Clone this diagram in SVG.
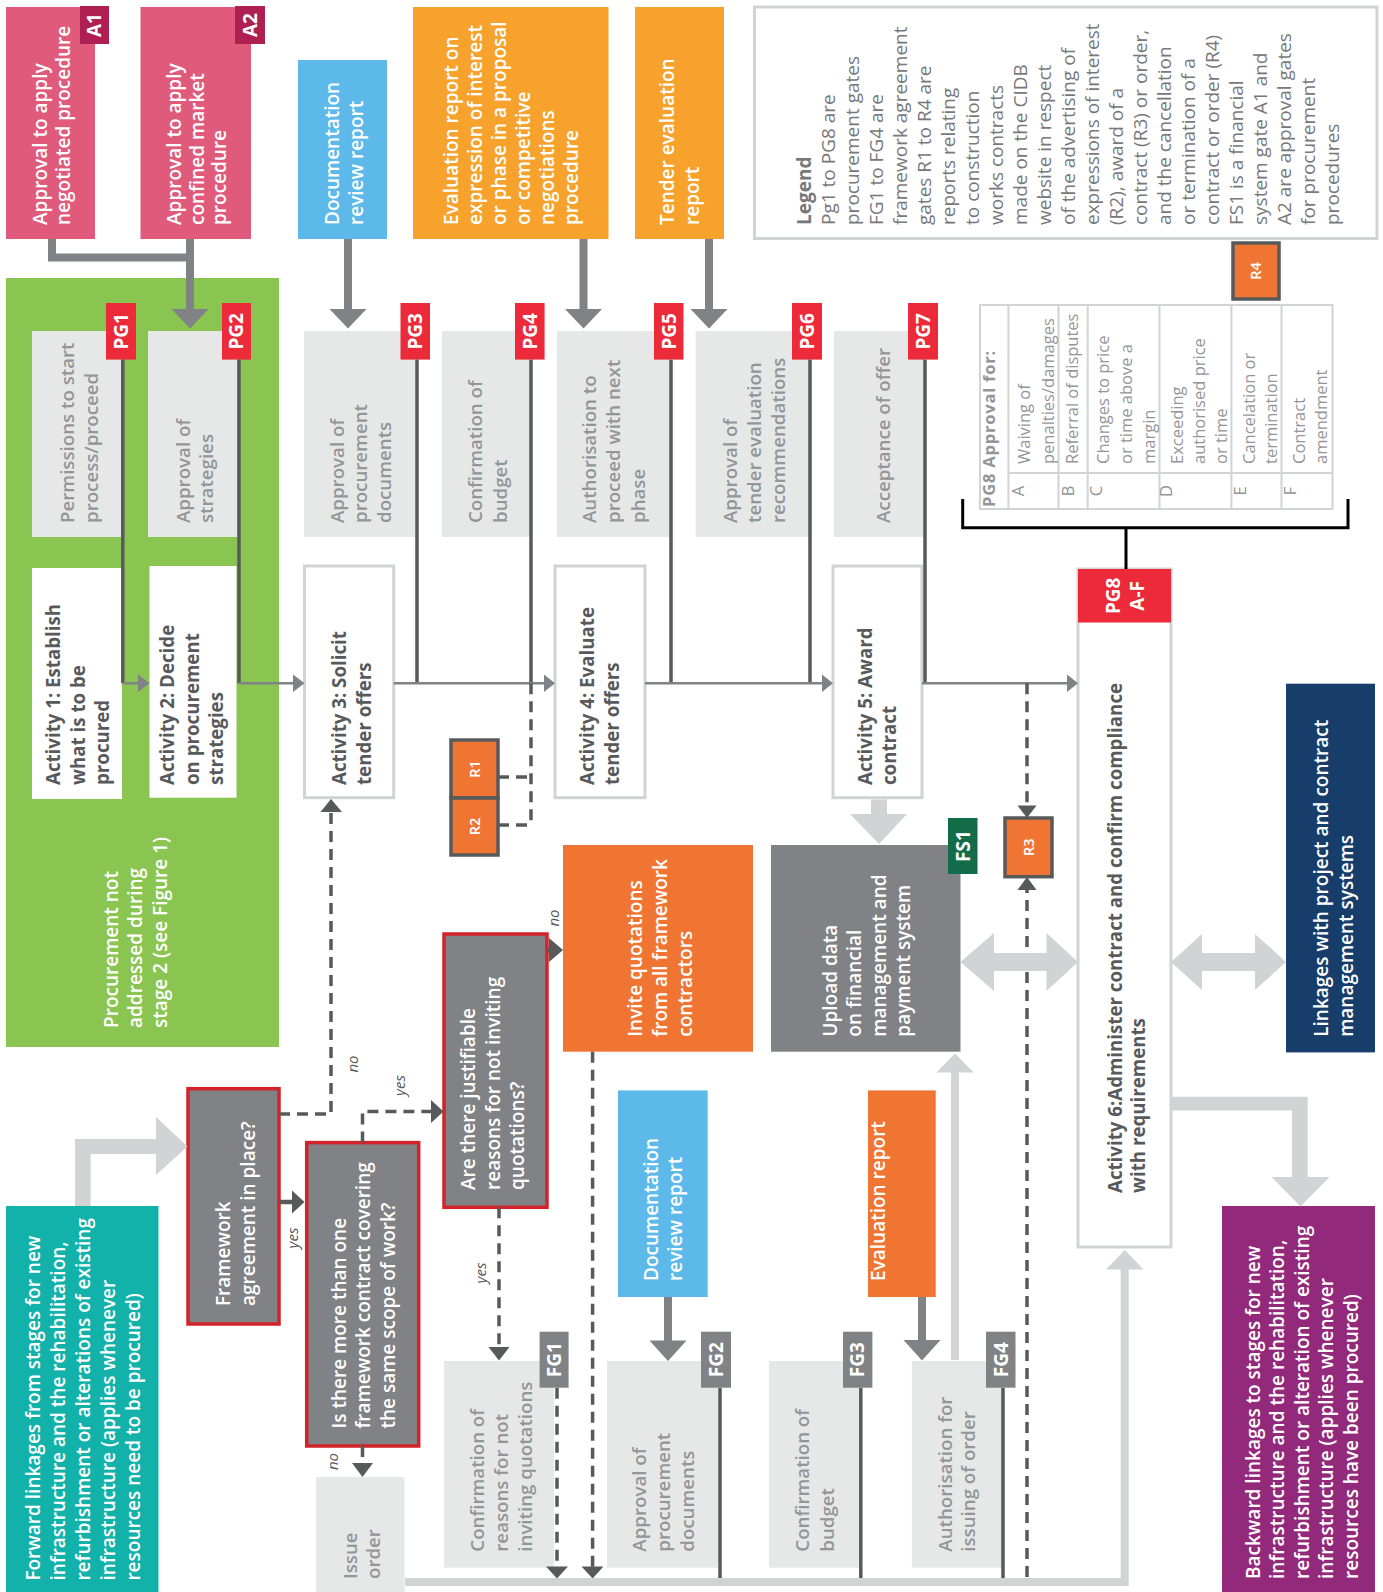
<svg xmlns="http://www.w3.org/2000/svg" width="1383" height="1592" viewBox="0 0 1383 1592">
<style>
text{font-family:"Open Sans","Noto Sans","DejaVu Sans",sans-serif}
.w{fill:#fff;font-weight:600;font-size:19px}
.g{fill:#939598;font-weight:600;font-size:18.7px}
.a{fill:#58595b;font-weight:700;font-size:18.7px}
.tab{fill:#fff;font-weight:700;font-size:19px;text-anchor:middle}
.r{fill:#fff;font-weight:600;font-size:14.5px;text-anchor:middle}
.lg{fill:#77787b;font-size:19px}
.tb{fill:#939598;font-size:16.5px}
.lbl{fill:#58595b;font-style:italic;font-size:15px;text-anchor:middle}
.pgbox{fill:#e6e8e7}
.pgtab{fill:#ec2a3a}
.fgtab{fill:#808285}
.act{fill:#fff;stroke:#d1d3d4;stroke-width:3}
.q{fill:#808285;stroke:#d2232a;stroke-width:3.5}
.rb{fill:#f07533;stroke:#58595b;stroke-width:3.5}
.ln{fill:none;stroke:#58595b;stroke-width:3.5}
.mn{fill:none;stroke:#808285;stroke-width:2.5}
.ds{fill:none;stroke:#58595b;stroke-width:3.5;stroke-dasharray:11 7}
.big{fill:none;stroke:#808285;stroke-width:8}
.lt{fill:none;stroke:#d1d3d4;stroke-width:8}
.hd{fill:#58595b}
.hm{fill:#808285}
.hl{fill:#d1d3d4}
</style>

<!-- Top approval nodes -->
<g id="a1">
<rect x="6" y="7" width="89" height="232" fill="#e05a7b"/>
<rect x="80" y="6" width="29" height="38" fill="#b01f52"/>
<text class="tab" transform="translate(101 25) rotate(-90)">A1</text>
<text class="w" transform="translate(47 225) rotate(-90)"><tspan x="0">Approval to apply</tspan><tspan x="0" dy="23">negotiated procedure</tspan></text>
</g>
<g id="a2">
<rect x="140.5" y="7" width="110.5" height="232" fill="#e05a7b"/>
<rect x="235" y="6" width="30" height="38" fill="#b01f52"/>
<text class="tab" transform="translate(256.5 25) rotate(-90)">A2</text>
<text class="w" transform="translate(181 225) rotate(-90)"><tspan x="0">Approval to apply</tspan><tspan x="0" dy="22.5">confined market</tspan><tspan x="0" dy="22.5">procedure</tspan></text>
</g>
<g id="doc-review-1">
<rect x="298" y="60" width="89" height="179" fill="#5db9e9"/>
<text class="w" transform="translate(339 225) rotate(-90)"><tspan x="0">Documentation</tspan><tspan x="0" dy="24">review report</tspan></text>
</g>
<g id="eval-report-1">
<rect x="413" y="7" width="195.5" height="232" fill="#f7a22c"/>
<text class="w" transform="translate(457.5 225) rotate(-90)"><tspan x="0">Evaluation report on</tspan><tspan x="0" dy="24">expression of interest</tspan><tspan x="0" dy="24">or phase in a proposal</tspan><tspan x="0" dy="24">or competitive</tspan><tspan x="0" dy="24">negotiations</tspan><tspan x="0" dy="24">procedure</tspan></text>
</g>
<g id="tender-eval-report">
<rect x="635" y="7" width="89" height="232" fill="#f7a22c"/>
<text class="w" transform="translate(674 225) rotate(-90)"><tspan x="0">Tender evaluation</tspan><tspan x="0" dy="25">report</tspan></text>
</g>
<g id="legend">
<rect x="754.5" y="7" width="622.5" height="231.5" fill="#fff" stroke="#d1d3d4" stroke-width="3"/>
<text class="lg" transform="translate(811 225) rotate(-90)"><tspan x="0" font-weight="700">Legend</tspan><tspan x="0" dy="24">Pg1 to PG8 are</tspan><tspan x="0" dy="24">procurement gates</tspan><tspan x="0" dy="24">FG1 to FG4 are</tspan><tspan x="0" dy="24">framework agreement</tspan><tspan x="0" dy="24">gates R1 to R4 are</tspan><tspan x="0" dy="24">reports relating</tspan><tspan x="0" dy="24">to construction</tspan><tspan x="0" dy="24">works contracts</tspan><tspan x="0" dy="24">made on the CIDB</tspan><tspan x="0" dy="24">website in respect</tspan><tspan x="0" dy="24">of the advertising of</tspan><tspan x="0" dy="24">expressions of interest</tspan><tspan x="0" dy="24">(R2), award of a</tspan><tspan x="0" dy="24">contract (R3) or order,</tspan><tspan x="0" dy="24">and the cancellation</tspan><tspan x="0" dy="24">or termination of a</tspan><tspan x="0" dy="24">contract or order (R4)</tspan><tspan x="0" dy="24">FS1 is a financial</tspan><tspan x="0" dy="24">system gate A1 and</tspan><tspan x="0" dy="24">A2 are approval gates</tspan><tspan x="0" dy="24">for procurement</tspan><tspan x="0" dy="24">procedures</tspan></text>
</g>
<g id="r4">
<rect x="1233" y="243" width="46" height="56" class="rb"/>
<text class="r" transform="translate(1261 271) rotate(-90)">R4</text>
</g>

<!-- Green region -->
<g id="stage2-area">
<rect x="6" y="278" width="273" height="769" fill="#8bc551"/>
<text class="w" transform="translate(118 1028) rotate(-90)"><tspan x="0">Procurement not</tspan><tspan x="0" dy="24.3">addressed during</tspan><tspan x="0" dy="24.3">stage 2 (see Figure 1)</tspan></text>
</g>

<!-- PG gates -->
<g id="pg1">
<rect class="pgbox" x="32" y="331" width="89.4" height="206"/>
<rect class="pgtab" x="106" y="303" width="30" height="56.6"/>
<text class="tab" transform="translate(127.5 331.3) rotate(-90)">PG1</text>
<text class="g" transform="translate(73.5 523) rotate(-90)"><tspan x="0">Permissions to start</tspan><tspan x="0" dy="24.5">process/proceed</tspan></text>
</g>
<g id="pg2">
<rect class="pgbox" x="148" y="331" width="89.5" height="206"/>
<rect class="pgtab" x="222" y="303" width="29" height="56.6"/>
<text class="tab" transform="translate(243 331.3) rotate(-90)">PG2</text>
<text class="g" transform="translate(189.5 523) rotate(-90)"><tspan x="0">Approval of</tspan><tspan x="0" dy="23.5">strategies</tspan></text>
</g>
<g id="pg3">
<rect class="pgbox" x="304" y="331" width="112" height="206"/>
<rect class="pgtab" x="400.5" y="303" width="29.5" height="56.6"/>
<text class="tab" transform="translate(421.8 331.3) rotate(-90)">PG3</text>
<text class="g" transform="translate(343.5 523) rotate(-90)"><tspan x="0">Approval of</tspan><tspan x="0" dy="23.5">procurement</tspan><tspan x="0" dy="23.5">documents</tspan></text>
</g>
<g id="pg4">
<rect class="pgbox" x="442" y="331" width="88" height="206"/>
<rect class="pgtab" x="515" y="303" width="29.6" height="56.6"/>
<text class="tab" transform="translate(536.5 331.3) rotate(-90)">PG4</text>
<text class="g" transform="translate(482 523) rotate(-90)"><tspan x="0">Confirmation of</tspan><tspan x="0" dy="24.5">budget</tspan></text>
</g>
<g id="pg5">
<rect class="pgbox" x="557" y="331" width="113" height="206"/>
<rect class="pgtab" x="654" y="303" width="29.5" height="56.6"/>
<text class="tab" transform="translate(675.5 331.3) rotate(-90)">PG5</text>
<text class="g" transform="translate(595.5 523) rotate(-90)"><tspan x="0">Authorisation to</tspan><tspan x="0" dy="24.5">proceed with next</tspan><tspan x="0" dy="24.5">phase</tspan></text>
</g>
<g id="pg6">
<rect class="pgbox" x="695.6" y="331" width="113.4" height="206"/>
<rect class="pgtab" x="792" y="303" width="30" height="56.6"/>
<text class="tab" transform="translate(813.7 331.3) rotate(-90)">PG6</text>
<text class="g" transform="translate(737 523) rotate(-90)"><tspan x="0">Approval of</tspan><tspan x="0" dy="24">tender evaluation</tspan><tspan x="0" dy="24">recommendations</tspan></text>
</g>
<g id="pg7">
<rect class="pgbox" x="834" y="331" width="90" height="206"/>
<rect class="pgtab" x="908" y="303" width="30" height="56.6"/>
<text class="tab" transform="translate(929.7 331.3) rotate(-90)">PG7</text>
<text class="g" transform="translate(889.5 523) rotate(-90)">Acceptance of offer</text>
</g>

<!-- PG8 table -->
<g id="pg8-table">
<rect x="980" y="305" width="352.5" height="204" fill="#fff" stroke="#d1d3d4" stroke-width="2"/>
<path d="M1008.4,305V509M1058.5,305V509M1087.7,305V509M1159.5,305V509M1231.4,305V509M1281.5,305V509M1008.4,473H1332.5" fill="none" stroke="#d1d3d4" stroke-width="2"/>
<text class="tb" font-weight="700" font-size="20" letter-spacing="0.8" transform="translate(994.5 507) rotate(-90)">PG8 Approval for:</text>
<g class="tb" text-anchor="middle">
<text transform="translate(1023.5 491) rotate(-90)">A</text>
<text transform="translate(1073.5 491) rotate(-90)">B</text>
<text transform="translate(1101.5 491) rotate(-90)">C</text>
<text transform="translate(1171.5 491) rotate(-90)">D</text>
<text transform="translate(1245.5 491) rotate(-90)">E</text>
<text transform="translate(1295.5 491) rotate(-90)">F</text>
</g>
<text class="tb" transform="translate(1030 464) rotate(-90)"><tspan x="0">Waiving of</tspan><tspan x="0" dy="24">penalties/damages</tspan></text>
<text class="tb" transform="translate(1078 464) rotate(-90)">Referral of disputes</text>
<text class="tb" transform="translate(1108.5 464) rotate(-90)"><tspan x="0">Changes to price</tspan><tspan x="0" dy="23">or time above a</tspan><tspan x="0" dy="23">margin</tspan></text>
<text class="tb" transform="translate(1182.5 464) rotate(-90)"><tspan x="0">Exceeding</tspan><tspan x="0" dy="22">authorised price</tspan><tspan x="0" dy="22">or time</tspan></text>
<text class="tb" transform="translate(1254.5 464) rotate(-90)"><tspan x="0">Cancelation or</tspan><tspan x="0" dy="22">termination</tspan></text>
<text class="tb" transform="translate(1304.5 464) rotate(-90)"><tspan x="0">Contract</tspan><tspan x="0" dy="22">amendment</tspan></text>
</g>

<!-- Activities -->
<g id="activity1">
<rect x="32" y="568" width="90" height="231" fill="#fff"/>
<text class="a" transform="translate(60 785) rotate(-90)"><tspan x="0">Activity 1: Establish</tspan><tspan x="0" dy="24.5">what is to be</tspan><tspan x="0" dy="24.5">procured</tspan></text>
</g>
<g id="activity2">
<rect x="149.5" y="566" width="87" height="231.7" fill="#fff"/>
<text class="a" transform="translate(174 785) rotate(-90)"><tspan x="0">Activity 2: Decide</tspan><tspan x="0" dy="24.5">on procurement</tspan><tspan x="0" dy="24.5">strategies</tspan></text>
</g>
<g id="activity3">
<rect class="act" x="304.5" y="566" width="89.2" height="231.7"/>
<text class="a" transform="translate(345.5 785) rotate(-90)"><tspan x="0">Activity 3: Solicit</tspan><tspan x="0" dy="25">tender offers</tspan></text>
</g>
<g id="activity4">
<rect class="act" x="555" y="566" width="90" height="231.7"/>
<text class="a" transform="translate(593.5 785) rotate(-90)"><tspan x="0">Activity 4: Evaluate</tspan><tspan x="0" dy="25">tender offers</tspan></text>
</g>
<g id="activity5">
<rect class="act" x="833" y="566" width="89" height="231.7"/>
<text class="a" transform="translate(872 785) rotate(-90)"><tspan x="0">Activity 5: Award</tspan><tspan x="0" dy="24">contract</tspan></text>
</g>
<g id="activity6">
<rect class="act" x="1078" y="569" width="93" height="678"/>
<rect x="1078" y="569" width="93" height="53.5" fill="#ec2a3a"/>
<text class="tab" transform="translate(1119.5 595.8) rotate(-90)">PG8</text>
<text class="tab" transform="translate(1143.5 595.8) rotate(-90)">A-F</text>
<text class="a" font-weight="600" font-size="18.3" transform="translate(1121.5 1193) rotate(-90)"><tspan x="0">Activity 6:Administer contract and confirm compliance</tspan><tspan x="0" dy="23">with requirements</tspan></text>
</g>

<g id="r1">
<rect class="rb" x="451" y="740" width="47" height="58"/>
<text class="r" transform="translate(479.5 769) rotate(-90)">R1</text>
</g>
<g id="r2">
<rect class="rb" x="451" y="798" width="47" height="57"/>
<text class="r" transform="translate(479.5 826.5) rotate(-90)">R2</text>
</g>
<g id="r3">
<rect class="rb" x="1005" y="818" width="47" height="58.7"/>
<text class="r" transform="translate(1033.5 847.3) rotate(-90)">R3</text>
</g>

<g id="invite-quotations">
<rect x="563" y="845" width="190" height="206.7" fill="#f07533"/>
<text class="w" transform="translate(641.5 1036.7) rotate(-90)"><tspan x="0">Invite quotations</tspan><tspan x="0" dy="25">from all framework</tspan><tspan x="0" dy="25">contractors</tspan></text>
</g>
<g id="upload-data">
<rect x="771" y="845" width="189.5" height="206.7" fill="#808285"/>
<rect x="948" y="818" width="29.5" height="56" fill="#126b49"/>
<text class="tab" transform="translate(969.5 846) rotate(-90)">FS1</text>
<text class="w" transform="translate(837 1036.7) rotate(-90)"><tspan x="0">Upload data</tspan><tspan x="0" dy="24.4">on financial</tspan><tspan x="0" dy="24.4">management and</tspan><tspan x="0" dy="24.4">payment system</tspan></text>
</g>
<g id="linkages">
<rect x="1286" y="683.7" width="89" height="368.7" fill="#173e6b"/>
<text class="w" font-size="18" transform="translate(1328 1036.8) rotate(-90)"><tspan x="0">Linkages with project and contract</tspan><tspan x="0" dy="25">management systems</tspan></text>
</g>

<!-- Framework decision nodes -->
<g id="framework-q">
<rect class="q" x="188" y="1088.7" width="91" height="235.3"/>
<text class="w" transform="translate(229.5 1306) rotate(-90)"><tspan x="0">Framework</tspan><tspan x="0" dy="25">agreement in place?</tspan></text>
</g>
<g id="more-than-one-q">
<rect class="q" x="306.7" y="1142.6" width="112" height="303.4"/>
<text class="w" transform="translate(345.5 1428.5) rotate(-90)"><tspan x="0">Is there more than one</tspan><tspan x="0" dy="24.5">framework contract covering</tspan><tspan x="0" dy="24.5">the same scope of work?</tspan></text>
</g>
<g id="justifiable-q">
<rect class="q" x="444" y="934" width="103" height="273.3"/>
<text class="w" transform="translate(475 1190) rotate(-90)"><tspan x="0">Are there justifiable</tspan><tspan x="0" dy="24.5">reasons for not inviting</tspan><tspan x="0" dy="24.5">quotations?</tspan></text>
</g>

<g id="forward-linkages">
<rect x="6" y="1206" width="152.5" height="386" fill="#12b2aa"/>
<text class="w" font-size="18.4" transform="translate(40 1580.6) rotate(-90)"><tspan x="0">Forward linkages from stages for new</tspan><tspan x="0" dy="25">infrastructure and the rehabilitation,</tspan><tspan x="0" dy="25">refurbishment or alterations of existing</tspan><tspan x="0" dy="25">infrastructure (applies whenever</tspan><tspan x="0" dy="25">resources need to be procured)</tspan></text>
</g>
<g id="backward-linkages">
<rect x="1222" y="1206" width="153" height="386" fill="#93297a"/>
<text class="w" font-size="18.4" transform="translate(1259.5 1579) rotate(-90)"><tspan x="0">Backward linkages to stages for new</tspan><tspan x="0" dy="24.5">infrastructure and the rehabilitation,</tspan><tspan x="0" dy="24.5">refurbishment or alteration of existing</tspan><tspan x="0" dy="24.5">infrastructure (applies whenever</tspan><tspan x="0" dy="24.5">resources have been procured)</tspan></text>
</g>

<g id="doc-review-2">
<rect x="618" y="1090.4" width="89.7" height="206.6" fill="#5db9e9"/>
<text class="w" transform="translate(658 1281) rotate(-90)"><tspan x="0">Documentation</tspan><tspan x="0" dy="23.5">review report</tspan></text>
</g>
<g id="eval-report-2">
<rect x="868" y="1090.4" width="67.7" height="206.6" fill="#f07533"/>
<text class="w" transform="translate(885 1281) rotate(-90)">Evaluation report</text>
</g>

<g id="issue-order">
<rect class="pgbox" x="316" y="1477" width="88.5" height="115"/>
<text class="g" transform="translate(356.5 1579) rotate(-90)"><tspan x="0">Issue</tspan><tspan x="0" dy="23">order</tspan></text>
</g>
<g id="fg1">
<rect class="pgbox" x="444" y="1361" width="110" height="206.7"/>
<rect class="fgtab" x="539.6" y="1331.7" width="29" height="56"/>
<text class="tab" transform="translate(560.8 1359.7) rotate(-90)">FG1</text>
<text class="g" transform="translate(484 1551.7) rotate(-90)"><tspan x="0">Confirmation of</tspan><tspan x="0" dy="24">reasons for not</tspan><tspan x="0" dy="24">inviting quotations</tspan></text>
</g>
<g id="fg2">
<rect class="pgbox" x="607" y="1361" width="111.6" height="206.7"/>
<rect class="fgtab" x="701" y="1331.7" width="30" height="56"/>
<text class="tab" transform="translate(722.7 1359.7) rotate(-90)">FG2</text>
<text class="g" transform="translate(645.5 1551.7) rotate(-90)"><tspan x="0">Approval of</tspan><tspan x="0" dy="24">procurement</tspan><tspan x="0" dy="24">documents</tspan></text>
</g>
<g id="fg3">
<rect class="pgbox" x="768.8" y="1361" width="90" height="206.7"/>
<rect class="fgtab" x="843" y="1331.7" width="29.4" height="56"/>
<text class="tab" transform="translate(864.4 1359.7) rotate(-90)">FG3</text>
<text class="g" transform="translate(809 1551.7) rotate(-90)"><tspan x="0">Confirmation of</tspan><tspan x="0" dy="25">budget</tspan></text>
</g>
<g id="fg4">
<rect class="pgbox" x="911.8" y="1361" width="90" height="206.7"/>
<rect class="fgtab" x="986" y="1331.7" width="29.5" height="56"/>
<text class="tab" transform="translate(1007.5 1359.7) rotate(-90)">FG4</text>
<text class="g" transform="translate(952 1551.7) rotate(-90)"><tspan x="0">Authorisation for</tspan><tspan x="0" dy="23">issuing of order</tspan></text>
</g>

<!-- Connectors -->
<g id="connectors">
<path class="big" d="M52,239V257.5H190M190,239V310M348,239V310M583.5,239V310M709,239V310M668,1297V1341M922,1297V1341"/>
<polygon class="hm" points="171.5,309 208.5,309 190,328.5"/>
<polygon class="hm" points="329.5,309 366.5,309 348,328.5"/>
<polygon class="hm" points="565,309 602,309 583.5,328.5"/>
<polygon class="hm" points="690.5,309 727.5,309 709,328.5"/>
<polygon class="hm" points="649.5,1340.5 686.5,1340.5 668,1361"/>
<polygon class="hm" points="903.5,1340 940.5,1340 922,1360.5"/>

<path class="ln" d="M122.8,359.6V683.3M239,359.6V683.3M417,359.6V683.3M531,359.6V683.3M671,359.6V683.3M810,359.6V683.3M925,359.6V683.3M720,1387.7V1578M860.8,1387.7V1578M1003,1387.7V1578"/>
<path class="mn" d="M122.8,683.3H139M239,683.3H294M393.7,683.3H545M645,683.3H823M922,683.3H1068"/>
<polygon class="hm" points="138,674.5 149.5,683.3 138,692"/>
<polygon class="hm" points="293,674.5 304.5,683.3 293,692"/>
<polygon class="hm" points="544,674.5 555,683.3 544,692"/>
<polygon class="hm" points="822,674.5 833,683.3 822,692"/>
<polygon class="hm" points="1067,674.5 1078,683.3 1067,692"/>

<path class="ds" d="M531,683.3V825M498,777H531M498,825H531"/>
<path class="ds" d="M1027,683.3V806M1027,1577V890"/>
<polygon class="hd" points="1017.5,805.5 1036.5,805.5 1027,818"/>
<polygon class="hd" points="1017.5,890 1036.5,890 1027,877"/>

<path class="ds" d="M279,1114H331V813"/>
<polygon class="hd" points="320.5,812 342,812 331,799"/>
<path d="M279,1202H293" stroke="#58595b" stroke-width="4.5"/>
<polygon class="hd" points="292,1190.5 304.5,1202 292,1213.5"/>
<path class="ds" d="M362.5,1142.6V1111.5H431"/>
<polygon class="hd" points="431,1100 443.5,1111.5 431,1123"/>
<path class="ds" d="M362.5,1446V1464"/>
<polygon class="hd" points="352,1463 373,1463 362.5,1477"/>
<path class="ds" d="M499,1207.3V1348"/>
<polygon class="hd" points="488.5,1347 509.5,1347 499,1360.5"/>
<path d="M547,950H550" stroke="#58595b" stroke-width="4.5"/>
<polygon class="hd" points="549,938 563,950 549,962"/>
<path class="ds" d="M592.6,1051.7V1567"/>
<polygon class="hd" points="581.5,1566.5 603.5,1566.5 592.6,1578.5"/>
<path class="ds" d="M557,1387.7V1567"/>
<polygon class="hd" points="546,1566.5 568,1566.5 557,1578.5"/>

<path class="lt" d="M955,1360V1071M405,1582H1124.7V1268"/>
<polygon class="hl" points="936.5,1072.5 973.5,1072.5 955,1053.5"/>
<polygon class="hl" points="1106,1269.5 1143.5,1269.5 1124.7,1250"/>
<polygon class="hl" points="871,799.5 887,799.5 887,814 907,814 879,844 850,814 871,814"/>
<polygon class="hl" points="960.5,962 994,933 994,953 1046.5,953 1046.5,933 1078,962 1046.5,991 1046.5,971 994,971 994,991"/>
<polygon class="hl" points="1171,962 1202,934 1202,953 1255,953 1255,934 1286,962 1255,990 1255,971 1202,971 1202,990"/>
<polygon class="hl" points="75,1206 75,1139 156,1139 156,1117 187.5,1146.5 156,1175 156,1154 90.6,1154 90.6,1206"/>
<polygon class="hl" points="1171.7,1096.7 1307.7,1096.7 1307.7,1177 1329.5,1177 1300.5,1206.5 1271.5,1177 1292,1177 1292,1110.5 1171.7,1110.5"/>

<path d="M962.7,499V527.8H1348V499M1126,527.8V569" fill="none" stroke="#000" stroke-width="3"/>

<text class="lbl" transform="translate(358 1064) rotate(-90)">no</text>
<text class="lbl" transform="translate(298 1238) rotate(-90)">yes</text>
<text class="lbl" transform="translate(404.5 1085.5) rotate(-90)">yes</text>
<text class="lbl" transform="translate(338 1461.5) rotate(-90)">no</text>
<text class="lbl" transform="translate(486 1273) rotate(-90)">yes</text>
<text class="lbl" transform="translate(559 918) rotate(-90)">no</text>
</g>
</svg>
